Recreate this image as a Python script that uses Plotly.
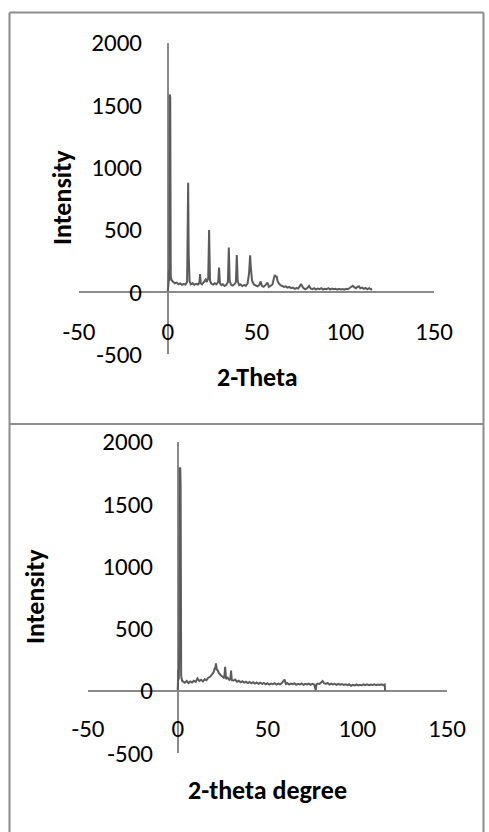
import plotly.graph_objects as go

# ---- data ----
x_top = [0.0, 0.4, 0.7, 0.9, 1.1, 1.4, 1.7, 2.2, 3, 4, 5, 6, 7, 8, 9, 10, 10.9, 11.3, 11.5, 11.8, 12.3,
         13, 14, 15, 16, 17, 17.8, 18.2, 18.6, 19.3, 20, 20.8, 21.4, 22, 22.8, 23.3, 23.8, 24.5, 25.5,
         26.5, 27.5, 28.4, 28.9, 29.4, 30.2, 31, 32, 33, 33.9, 34.4, 34.9, 35.6, 36.5, 37.5, 38.4, 38.9,
         39.4, 40.2, 41, 42, 43, 44, 45, 45.8, 46.4, 46.9, 47.5, 48.5, 49.5, 50.5, 51.5, 52.4, 53, 54,
         55, 56.2, 57, 58, 59, 59.8, 60.3, 60.8, 61.3, 61.8, 62.5, 63.5, 64.5, 65.5, 66.5, 67.5, 68.5,
         69.5, 70.5, 71.5, 72.5, 73.5, 74.3, 75.1, 75.8, 76.5, 77.5, 78.5, 79.6, 80.5, 81.5, 82.5, 83.5,
         84.5, 85.5, 86.5, 87.5, 88.5, 89.5, 90.5, 91.5, 92.5, 93.5, 94.5, 95.5, 96.5, 97.5, 98.5, 99.5,
         100.5, 101.5, 102.5, 103.5, 104.2, 105, 106, 107, 107.8, 108.5, 109.5, 110.5, 111.5, 112.5,
         113.5, 114.5, 115.0]
y_top = [5, 60, 176, 90, 1585, 1560, 120, 95, 82, 70, 75, 62, 68, 58, 64, 60, 80, 500, 877, 300, 85,
         62, 70, 58, 66, 60, 72, 144, 70, 62, 75, 90, 100, 80, 110, 497, 90, 68, 60,
         70, 62, 80, 195, 70, 55, 62, 48, 58, 80, 356, 90, 60, 52, 62, 80, 297,
         85, 55, 60, 48, 56, 50, 70, 150, 294, 180, 90, 60, 52, 45, 55, 85, 50, 42,
         55, 75, 40, 48, 60, 110, 136, 120, 130, 90, 70, 55, 48, 40, 45, 35, 40,
         30, 35, 25, 32, 28, 45, 64, 45, 30, 22, 30, 48, 28, 22, 30, 20,
         28, 22, 30, 20, 26, 22, 30, 20, 28, 22, 26, 18, 25, 20, 24, 18,
         26, 22, 30, 40, 50, 38, 30, 42, 45, 30, 35, 25, 32, 22,
         30, 20, 28]

x_bot = [0.0, 0.3, 0.6, 0.9, 1.1, 1.4, 1.6, 1.9, 2.4, 3, 4, 5, 6, 7, 8, 9, 10, 11, 12, 13, 14, 15, 16,
         17, 18, 19, 20, 20.5, 21.0, 21.3, 21.7, 22.2, 23, 24, 25, 25.9, 26.4, 26.9, 27.8, 28.7, 29.3,
         29.7, 30.1, 31, 32, 33, 34, 35, 36, 37, 38, 39, 40, 41, 42, 43, 44, 45, 46, 47, 48, 49, 50,
         51, 52, 53, 54, 55, 56, 57, 58, 59.5, 60.2, 61, 62, 63, 64, 65, 66, 67, 68, 69, 70, 71, 72,
         73, 74, 75, 76, 76.9, 77.3, 78, 79, 80, 80.7, 81.5, 82.5, 83.5, 84.5, 85.5, 86.5, 87.5, 88.5,
         89.5, 90.5, 91.5, 92.5, 93.5, 94.5, 95.5, 96.5, 97.5, 98.5, 99.5, 100.5, 101.5, 102.5, 103.5,
         104.5, 105.5, 106.5, 107.5, 108.5, 109.5, 110.5, 111.5, 112.5, 113.5, 114.5, 115.3, 115.5]
y_bot = [5, 171, 90, 400, 1786, 1790, 1650, 120, 80, 72, 65, 78, 62, 75, 66, 80, 72, 99, 78, 88, 75, 92, 85,
         105, 112, 130, 150, 175, 190, 220, 170, 165, 140, 125, 110, 100, 193, 95, 105, 88, 95,
         161, 85, 82, 90, 72, 80, 68, 76, 65, 72, 62, 70, 60, 68, 58, 66, 56, 64, 55, 62, 52, 60,
         50, 58, 52, 60, 50, 58, 52, 62, 90, 55, 62, 50, 58, 52, 60, 48, 56, 50, 58, 48, 56, 50,
         57, 48, 55, 50, 5, 52, 58, 55, 65, 78, 60, 55, 62, 50, 58, 50, 56, 48,
         55, 48, 54, 46, 52, 45, 52, 40, 48, 42, 50, 42, 48, 44, 52,
         45, 52, 44, 50, 46, 52, 44, 50, 46, 52, 45, 50, 0]

x_ticks = [-50, 0, 50, 100, 150]
x_tick_text = ["-50", "0", "50", "100", "150"]
y_ticks = [-500, 0, 500, 1000, 1500, 2000]
y_tick_text = ["-500", "0", "500", "1000", "1500", "2000"]

W, H = 489, 832
FONT = "Carlito, Calibri, Lato, sans-serif"
LINE_C = "#5b5b5b"
AXIS_C = "#8a8a8a"

def px(x):
    return x / W

def py(y):
    return 1 - y / H

fig = go.Figure()
fig.add_trace(go.Scatter(x=x_top, y=y_top, mode="lines", line=dict(color=LINE_C, width=2),
                         xaxis="x", yaxis="y", showlegend=False, hoverinfo="skip"))
fig.add_trace(go.Scatter(x=x_bot, y=y_bot, mode="lines", line=dict(color=LINE_C, width=2),
                         xaxis="x2", yaxis="y2", showlegend=False, hoverinfo="skip"))

common_x = dict(range=[-50, 150], tickmode="array", tickvals=x_ticks, ticktext=x_tick_text,
                showgrid=False, showline=False, ticks="", zeroline=True, zerolinecolor=AXIS_C,
                zerolinewidth=1.6, tickfont=dict(family=FONT, size=25, color="black"),
                anchor="free", automargin=False)
common_y = dict(range=[-500, 2000], tickmode="array", tickvals=y_ticks, ticktext=y_tick_text,
                showgrid=False, showline=False, ticks="", zeroline=True, zerolinecolor=AXIS_C,
                zerolinewidth=1.6, tickfont=dict(family=FONT, size=25, color="black"),
                anchor="free", automargin=False)

fig.update_layout(
    width=W, height=H, margin=dict(l=0, r=0, t=0, b=0, pad=0, autoexpand=False),
    paper_bgcolor="white", plot_bgcolor="rgba(0,0,0,0)",
    xaxis=dict(common_x, domain=[px(79), px(434)], position=py(314)),
    yaxis=dict(common_y, domain=[py(354.3), py(42.7)], position=px(142)),
    xaxis2=dict(common_x, domain=[px(88), px(447)], position=py(711)),
    yaxis2=dict(common_y, domain=[py(753), py(441.7)], position=px(153)),
)

# titles
tfont = dict(family=FONT, size=26, color="black")
fig.add_annotation(text="<b>Intensity</b>", x=px(62), y=py(198), xref="paper", yref="paper",
                   textangle=-90, showarrow=False, font=tfont, xanchor="center", yanchor="middle")
fig.add_annotation(text="<b>2-Theta</b>", x=px(257), y=py(377), xref="paper", yref="paper",
                   showarrow=False, font=tfont, xanchor="center", yanchor="middle")
fig.add_annotation(text="<b>Intensity</b>", x=px(35), y=py(597), xref="paper", yref="paper",
                   textangle=-90, showarrow=False, font=tfont, xanchor="center", yanchor="middle")
fig.add_annotation(text="<b>2-theta degree</b>", x=px(267), y=py(790), xref="paper", yref="paper",
                   showarrow=False, font=tfont, xanchor="center", yanchor="middle")

# panel borders
bc = dict(color="#8c8c8c", width=2)
fig.add_shape(type="line", xref="paper", yref="paper", x0=px(9.5), x1=px(483.5), y0=py(12.5), y1=py(12.5), line=bc)
fig.add_shape(type="line", xref="paper", yref="paper", x0=px(9.5), x1=px(483.5), y0=py(424), y1=py(424), line=bc)
fig.add_shape(type="line", xref="paper", yref="paper", x0=px(9.5), x1=px(9.5), y0=py(12.5), y1=py(834), line=bc)
fig.add_shape(type="line", xref="paper", yref="paper", x0=px(483.5), x1=px(483.5), y0=py(12.5), y1=py(834), line=bc)

fig.write_html("out.html", config={"displayModeBar": False},
               post_script="document.body.style.margin='0';document.body.style.padding='0';")
